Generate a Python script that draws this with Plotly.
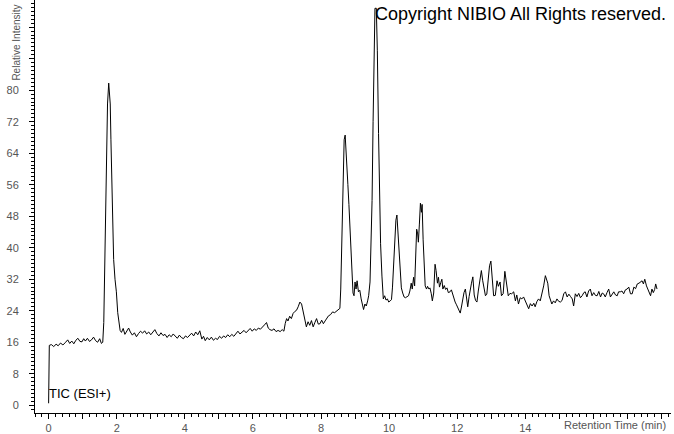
import plotly.graph_objects as go

# Retention time (min) and relative intensity
time_min = [
    0.0, 0.02, 0.08, 0.15, 0.22, 0.28, 0.35, 0.42, 0.5, 0.56, 0.62, 0.68, 0.74, 0.8, 0.86, 0.92, 0.98,
    1.03, 1.08, 1.14, 1.2, 1.26, 1.32, 1.38, 1.44, 1.5, 1.55, 1.59, 1.62, 1.64, 1.67, 1.70, 1.73, 1.765,
    1.81, 1.83, 1.86, 1.89, 1.91, 1.95, 1.99, 2.03, 2.07, 2.1,
    2.14, 2.19, 2.24, 2.3, 2.35, 2.4, 2.46, 2.52, 2.58, 2.64, 2.7, 2.76, 2.82, 2.88, 2.94, 3.0,
    3.06, 3.12, 3.18, 3.24, 3.3, 3.36, 3.42, 3.48, 3.54, 3.6, 3.66, 3.72, 3.78, 3.84, 3.9, 3.96,
    4.02, 4.08, 4.14, 4.2, 4.26, 4.32, 4.38, 4.44, 4.5, 4.55, 4.6, 4.66, 4.72, 4.78, 4.84, 4.9, 4.96,
    5.02, 5.08, 5.14, 5.2, 5.26, 5.32, 5.38, 5.44, 5.5, 5.56, 5.62, 5.68, 5.74, 5.8, 5.86, 5.92, 5.98,
    6.04, 6.1, 6.16, 6.22, 6.28, 6.34, 6.4, 6.45, 6.5, 6.56, 6.62, 6.68, 6.74, 6.8, 6.86, 6.91, 6.95,
    6.99, 7.03, 7.08, 7.13, 7.18, 7.23, 7.28, 7.33, 7.38, 7.43, 7.47, 7.52, 7.57, 7.62, 7.67, 7.72,
    7.77, 7.82, 7.87, 7.92, 7.97, 8.02, 8.07, 8.12, 8.17, 8.22, 8.28, 8.34, 8.4, 8.46, 8.52, 8.555,
    8.58, 8.61, 8.64, 8.68, 8.71, 8.73, 8.76, 8.79, 8.82, 8.85, 8.88, 8.91, 8.94, 8.97, 9.0, 9.03,
    9.06, 9.1, 9.14, 9.18, 9.22, 9.25, 9.29, 9.33, 9.37, 9.4, 9.44, 9.47, 9.5, 9.53, 9.56, 9.585,
    9.625, 9.655, 9.69, 9.72, 9.75, 9.79, 9.83, 9.87, 9.91, 9.95, 9.99, 10.03, 10.07, 10.1, 10.13,
    10.16, 10.2, 10.23, 10.26, 10.29, 10.32, 10.36, 10.4, 10.44, 10.48, 10.53, 10.57, 10.61, 10.65,
    10.68, 10.72, 10.75, 10.78, 10.81, 10.84, 10.86, 10.89, 10.92, 10.95, 10.97, 11.0, 11.03, 11.06,
    11.1, 11.13, 11.17, 11.2, 11.24, 11.27, 11.31, 11.35, 11.38, 11.42, 11.45, 11.48, 11.52, 11.55,
    11.58, 11.62, 11.66, 11.7, 11.74, 11.79, 11.83, 11.87, 11.91, 11.94, 11.98, 12.02, 12.06, 12.09,
    12.13, 12.17, 12.2, 12.24, 12.28, 12.31, 12.35, 12.38, 12.42, 12.46, 12.5, 12.54, 12.58, 12.62,
    12.66, 12.71, 12.75, 12.79, 12.83, 12.87, 12.91, 12.95, 12.99, 13.03, 13.07, 13.12, 13.17, 13.21,
    13.26, 13.3, 13.35, 13.4, 13.44, 13.5, 13.55, 13.6, 13.66, 13.71, 13.75, 13.8, 13.85, 13.9, 13.95,
    14.0, 14.05, 14.1, 14.15, 14.2, 14.25, 14.29, 14.34, 14.39, 14.44, 14.49, 14.54, 14.59, 14.62,
    14.66, 14.7, 14.74, 14.78, 14.83, 14.88, 14.93, 14.98, 15.03, 15.08, 15.13, 15.18, 15.23, 15.28,
    15.33, 15.38, 15.42, 15.47, 15.52, 15.57, 15.62, 15.67, 15.72, 15.76, 15.81, 15.86, 15.91, 15.96,
    16.01, 16.06, 16.11, 16.16, 16.21, 16.26, 16.3, 16.35, 16.4, 16.45, 16.5, 16.55, 16.6, 16.65,
    16.7, 16.74, 16.79, 16.84, 16.89, 16.94, 16.99, 17.04, 17.09, 17.14, 17.19, 17.24, 17.29, 17.34,
    17.38, 17.43, 17.47, 17.51, 17.56, 17.6, 17.63, 17.68, 17.72, 17.76, 17.8, 17.83, 17.87,
]

intensity = [
    0.5, 15.2, 15.4, 14.9, 15.5, 15.1, 15.8, 15.3, 16.0, 16.6, 15.7, 16.3, 15.6, 16.5, 17.0, 16.2, 16.1,
    16.9, 16.3, 17.0, 16.2, 16.6, 17.3, 16.4, 16.0, 16.9, 15.7, 16.0, 21.0, 32.0, 52.0, 67.4, 76.5, 81.8,
    76.5, 67.4, 52.0, 42.0, 37.0, 32.0, 28.8, 23.5, 20.5, 19.0,
    18.5, 19.5, 18.0, 18.8, 19.6, 18.6, 17.8, 18.4, 17.4, 18.2, 18.8, 18.3, 18.9, 18.1, 18.6, 17.9,
    18.7, 19.2, 18.2, 17.6, 18.4, 17.7, 18.0, 17.2, 17.9, 17.4, 18.1, 17.5, 17.0, 17.8, 17.2, 16.9,
    17.6, 17.2, 17.9, 18.3, 17.6, 18.6, 17.9, 18.9, 16.8, 17.5, 16.4, 17.2, 16.6, 17.3, 16.5, 17.0, 16.7,
    17.5, 17.0, 17.6, 17.2, 17.9, 17.4, 18.0, 17.5, 18.2, 18.8, 18.1, 18.5, 19.0, 18.4, 18.9, 19.5, 18.8,
    19.4, 19.0, 19.6, 19.3, 20.0, 20.4, 21.0, 19.6, 19.2, 19.0, 19.4, 18.7, 19.0, 18.7, 19.2, 18.8, 20.8,
    22.0, 21.4, 22.6, 22.0, 23.3, 23.8, 24.1, 25.0, 26.2, 25.7, 24.0, 22.0, 19.9, 21.2, 20.3, 21.5,
    19.9, 21.0, 22.0, 20.6, 20.7, 21.6, 20.7, 21.4, 22.0, 22.7, 23.0, 23.7, 23.5, 24.0, 24.3, 24.6,
    29.5, 42.0, 54.0, 67.4, 68.6, 66.0, 61.0, 56.0, 51.0, 45.4, 37.0, 31.0, 28.5, 27.8, 31.3, 29.5,
    31.6, 28.8, 29.2, 27.0, 25.5, 24.3, 25.7, 25.2, 26.5, 27.8, 31.3, 40.0, 52.0, 72.0, 88.0, 100.8,
    100.8, 90.0, 69.0, 52.0, 41.0, 32.8, 27.0, 27.8, 26.7, 27.0, 26.2, 26.5, 26.8, 30.0, 35.4,
    42.0, 47.0, 48.3, 44.0, 37.5, 33.8, 29.8, 28.5, 27.5, 27.3, 27.5, 27.8, 29.0, 31.0,
    29.5, 32.5, 30.3, 38.8, 44.7, 43.5, 41.4, 46.0, 51.3, 49.0, 51.0, 42.0, 37.0, 30.3,
    29.5, 30.2, 29.5, 29.8, 28.3, 26.5, 28.5, 35.8, 34.2, 31.0, 32.5, 30.0, 31.2, 32.0,
    29.5, 30.4, 29.4, 29.8, 28.6, 28.8, 29.3, 28.0, 27.0, 26.2, 25.5, 24.8, 24.0, 23.4,
    25.2, 27.5, 28.6, 29.5, 27.0, 25.0, 27.6, 29.5, 31.0, 32.6, 28.0, 26.6, 26.2, 29.0,
    32.0, 34.2, 31.6, 29.0, 27.8, 28.2, 32.0, 35.4, 36.6, 32.8, 27.8, 27.9, 31.6, 30.2,
    31.3, 27.8, 28.3, 34.0, 31.3, 27.8, 28.4, 28.3, 28.8, 26.5, 28.0, 25.7, 27.3, 27.0, 27.5,
    26.5, 25.2, 24.5, 25.8, 25.2, 25.9, 25.0, 26.3, 27.0, 26.5, 28.3, 30.3, 32.9, 32.2,
    31.0, 27.8, 26.4, 25.7, 26.5, 26.0, 27.0, 26.4, 26.2, 26.6, 28.3, 28.8, 27.5, 28.2,
    27.6, 27.0, 25.2, 28.3, 27.6, 28.4, 27.3, 27.8, 28.6, 28.8, 27.5, 29.0, 29.5, 27.8,
    28.6, 27.9, 27.8, 28.9, 27.5, 28.5, 28.3, 27.5, 28.6, 29.5, 27.5, 28.3, 28.8, 28.0,
    27.8, 28.8, 28.8, 29.0, 28.3, 29.3, 29.5, 30.0, 28.3, 28.3, 30.0, 29.6, 30.8, 31.0,
    31.3, 31.6, 30.8, 32.0, 30.3, 29.6, 29.0, 27.8, 29.5, 28.6, 29.4, 30.8, 29.5,
]

x_tick_vals = [0, 1, 2, 3, 4, 5, 6, 7, 8, 9, 10, 11, 12, 13, 14, 15, 16, 17, 18]
x_tick_text = ["0", "", "2", "", "4", "", "6", "", "8", "", "10", "", "12", "", "14", "", "", "", ""]
y_tick_vals = [0, 8, 16, 24, 32, 40, 48, 56, 64, 72, 80, 88, 96]
y_tick_text = ["0", "8", "16", "24", "32", "40", "48", "56", "64", "72", "80", "", ""]

FONT = "Liberation Sans, Arial, sans-serif"

fig = go.Figure()
fig.add_trace(go.Scatter(
    x=time_min, y=intensity, mode="lines",
    line=dict(color="black", width=1),
    hoverinfo="skip", showlegend=False,
))

fig.update_layout(
    width=674, height=434,
    margin=dict(l=35, r=3, t=0, b=19),
    paper_bgcolor="white", plot_bgcolor="white",
    showlegend=False,
    font=dict(family=FONT, size=11, color="#555555"),
)

fig.update_xaxes(
    range=[-0.40, 18.28],
    showgrid=False, zeroline=False,
    showline=True, linecolor="black", linewidth=1,
    ticks="outside", ticklen=5, tickcolor="black", tickwidth=1,
    tickmode="array", tickvals=x_tick_vals, ticktext=x_tick_text,
    tickfont=dict(family=FONT, size=11, color="#555555"),
    minor=dict(ticks="outside", ticklen=3, tickcolor="black", tickmode="linear", tick0=0, dtick=0.2),
)
fig.update_yaxes(
    range=[-1.97, 102.9],
    showgrid=False, zeroline=False,
    showline=True, linecolor="black", linewidth=1,
    ticks="outside", ticklen=5, tickcolor="black", tickwidth=1,
    tickmode="array", tickvals=y_tick_vals, ticktext=y_tick_text,
    tickfont=dict(family=FONT, size=11, color="#555555"),
    ticklabelstandoff=8,
    minor=dict(ticks="outside", ticklen=3, tickcolor="black", tickmode="linear", tick0=0, dtick=1),
)

fig.add_annotation(
    text="Copyright NIBIO All Rights reserved.",
    xref="paper", yref="paper", x=0.995, y=0.966,
    xanchor="right", yanchor="middle", showarrow=False,
    font=dict(family=FONT, size=18, color="black"),
)
fig.add_annotation(
    text="TIC (ESI+)",
    xref="paper", yref="paper", x=0.0189, y=0.048,
    xanchor="left", yanchor="middle", showarrow=False,
    font=dict(family=FONT, size=13, color="black"),
)
fig.add_annotation(
    text="Retention Time (min)",
    xref="paper", yref="paper", x=0.995, y=-0.029,
    xanchor="right", yanchor="middle", showarrow=False,
    font=dict(family=FONT, size=11, color="#555555"),
)
fig.add_annotation(
    text="Relative Intensity",
    xref="paper", yref="paper", x=-0.0283, y=0.80,
    xanchor="center", yanchor="bottom", textangle=-90, showarrow=False,
    font=dict(family=FONT, size=10, color="#555555"),
)

fig.write_html(
    "out.html",
    config={"displayModeBar": False},
    post_script="document.body.style.margin='0';document.body.style.padding='0';",
)
